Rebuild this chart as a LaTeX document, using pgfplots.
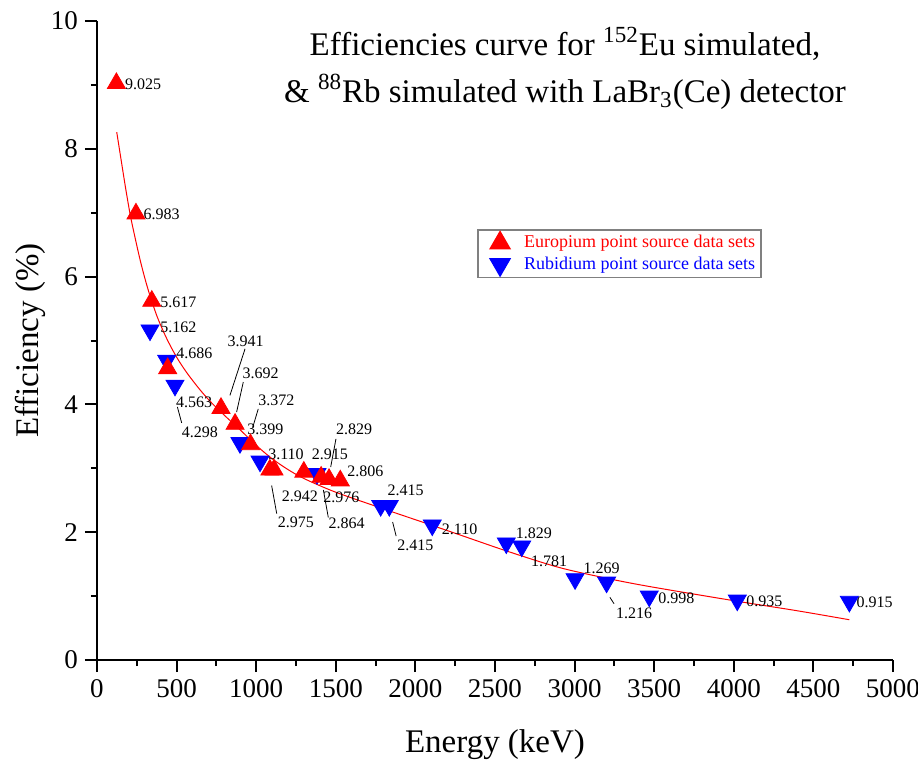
\documentclass[border=0pt]{standalone}
\usepackage{fontspec}
\setmainfont{Liberation Serif}
\usepackage{pgfplots}
\pgfplotsset{compat=1.18}

\newcommand{\lbl}{\fontsize{8}{8}\selectfont}

\begin{document}
\begin{tikzpicture}
\begin{axis}[
    at={(0,0)}, anchor=south west,
    scale only axis,
    width=398pt, height=319.5pt,
    xmin=0, xmax=5000, ymin=0, ymax=10,
    axis lines=left,
    axis line style={-, line width=1pt},
    xtick={0,500,...,5000}, minor x tick num=1,
    ytick={0,2,...,10}, minor y tick num=1,
    tick align=outside,
    major tick length=6pt, minor tick length=3pt,
    tick style={black, line width=1pt},
    ticklabel style={font=\fontsize{13.5}{13.5}\selectfont},
    /pgf/number format/assume math mode=true,
    /pgf/number format/set thousands separator={},
    scaled x ticks=false,
    xlabel={Energy (keV)}, ylabel={Efficiency (\%)},
    label style={font=\fontsize{16.5}{16.5}\selectfont},
    xlabel style={at={(axis description cs:0.5,-0.133)}, anchor=center},
    ylabel style={at={(axis description cs:-0.084,0.5)}, anchor=center},
    legend style={at={(axis description cs:0.478,0.674)}, anchor=north west,
        draw=gray, line width=0.6pt, font=\fontsize{9}{9}\selectfont,
        row sep=-1pt, inner xsep=1pt, inner ysep=0.7pt},
    legend image code/.code={
        \path[draw=none, fill=none] (0pt,0pt) -- (20pt,0pt);
        \draw[#1] plot coordinates {(10pt,0pt)};},
    legend cell align=left,
    clip=false,
]
% legend entries first (red on top of the list)
\addlegendimage{only marks, mark=triangle*, mark size=5.8pt, red}
\addlegendentry{\textcolor{red}{Europium point source data sets}\hspace{-3pt}}
\addlegendimage{only marks, mark=triangle*, mark size=5.8pt, blue, mark options={rotate=180}}
\addlegendentry{\textcolor{blue}{Rubidium point source data sets}\hspace{-3pt}}

% Rb-88 points
\addplot[only marks, mark=triangle*, mark size=5.2pt, blue, mark options={rotate=180}, forget plot]
coordinates {
(333,5.162) (438,4.686) (490,4.298) (898,3.399) (1024,3.110) (1382,2.915)
(1782,2.415) (1836,2.415) (2106,2.110) (2571,1.829) (2668,1.781)
(3003,1.269) (3201,1.216) (3469,0.998) (4022,0.935) (4726,0.915)
};

% fitted efficiency curve
\addplot[red, line width=0.5pt, smooth, forget plot]
coordinates {
(124,8.26) (150,7.85) (180,7.38) (210,6.95) (240,6.60) (270,6.27)
(300,5.98) (333,5.70) (380,5.36) (438,5.03) (500,4.74) (563,4.50)
(640,4.25) (710,4.05) (800,3.83) (900,3.60) (1000,3.36) (1100,3.15)
(1200,2.98) (1300,2.84) (1485,2.64) (1735,2.42) (2113,2.10) (2300,1.94)
(2580,1.70) (2900,1.45) (3200,1.28) (3470,1.15) (4020,0.92) (4400,0.77)
(4726,0.63)
};

% Eu-152 points
\addplot[only marks, mark=triangle*, mark size=5.2pt, red, forget plot]
coordinates {
(121.8,9.025) (244.7,6.983) (344.3,5.617) (444.0,4.563) (778.9,3.941)
(867.4,3.692) (964.1,3.372) (1085.8,2.975) (1112.1,2.976) (1299.1,2.942)
(1408.0,2.864) (1457.6,2.829) (1528.1,2.806)
};

% value labels
\begin{scope}[every node/.style={font=\lbl, inner sep=0.3pt}]
\node[anchor=west] at (axis cs:170,9.01) {9.025};
\node[anchor=west] at (axis cs:286,6.97) {6.983};
\node[anchor=west] at (axis cs:392,5.60) {5.617};
\node[anchor=west] at (axis cs:392,5.20) {5.162};
\node[anchor=west] at (axis cs:492,4.80) {4.686};
\node[anchor=west] at (axis cs:815,4.99) {3.941};
\node[anchor=west] at (axis cs:908,4.48) {3.692};
\node[anchor=west] at (axis cs:1008,4.06) {3.372};
\node[anchor=west] at (axis cs:490,4.03) {4.563};
\node[anchor=west] at (axis cs:527,3.57) {4.298};
\node[anchor=west] at (axis cs:938,3.61) {3.399};
\node[anchor=west] at (axis cs:1496,3.61) {2.829};
\node[anchor=west] at (axis cs:1070,3.22) {3.110};
\node[anchor=west] at (axis cs:1343,3.22) {2.915};
\node[anchor=west] at (axis cs:1566,2.95) {2.806};
\node[anchor=west] at (axis cs:1155,2.56) {2.942};
\node[anchor=west] at (axis cs:1416,2.55) {2.976};
\node[anchor=west] at (axis cs:1130,2.16) {2.975};
\node[anchor=west] at (axis cs:1448,2.14) {2.864};
\node[anchor=west] at (axis cs:1820,2.65) {2.415};
\node[anchor=west] at (axis cs:1880,1.79) {2.415};
\node[anchor=west] at (axis cs:2160,2.05) {2.110};
\node[anchor=west] at (axis cs:2625,1.98) {1.829};
\node[anchor=west] at (axis cs:2720,1.55) {1.781};
\node[anchor=west] at (axis cs:3050,1.43) {1.269};
\node[anchor=west] at (axis cs:3255,0.73) {1.216};
\node[anchor=west] at (axis cs:3520,0.97) {0.998};
\node[anchor=west] at (axis cs:4072,0.92) {0.935};
\node[anchor=west] at (axis cs:4766,0.90) {0.915};
\end{scope}

% leader lines
\begin{scope}[line width=0.4pt, black]
\draw (axis cs:930,4.87) -- (axis cs:835,4.14);
\draw (axis cs:919,4.35) -- (axis cs:877,3.88);
\draw (axis cs:1013,3.93) -- (axis cs:978,3.64);
\draw (axis cs:505,3.96) -- (axis cs:532,3.71);
\draw (axis cs:1097,2.73) -- (axis cs:1129,2.29);
\draw (axis cs:1422,2.66) -- (axis cs:1453,2.23);
\draw (axis cs:1501,3.46) -- (axis cs:1468,3.02);
\draw (axis cs:1857,2.16) -- (axis cs:1879,1.94);
\draw (axis cs:3222,0.98) -- (axis cs:3248,0.88);
\end{scope}

% title
\node[align=center, font=\fontsize{16.5}{23.5}\selectfont]
  at (axis description cs:0.588,0.926)
  {Efficiencies curve for \textsuperscript{152}Eu simulated,\\
   \& \textsuperscript{88}Rb simulated with LaBr\textsubscript{3}(Ce) detector};
\end{axis}
\pgfresetboundingbox
\path[use as bounding box] (-48.5pt,-51pt) rectangle (410.5pt,330pt);
\end{tikzpicture}
\end{document}
